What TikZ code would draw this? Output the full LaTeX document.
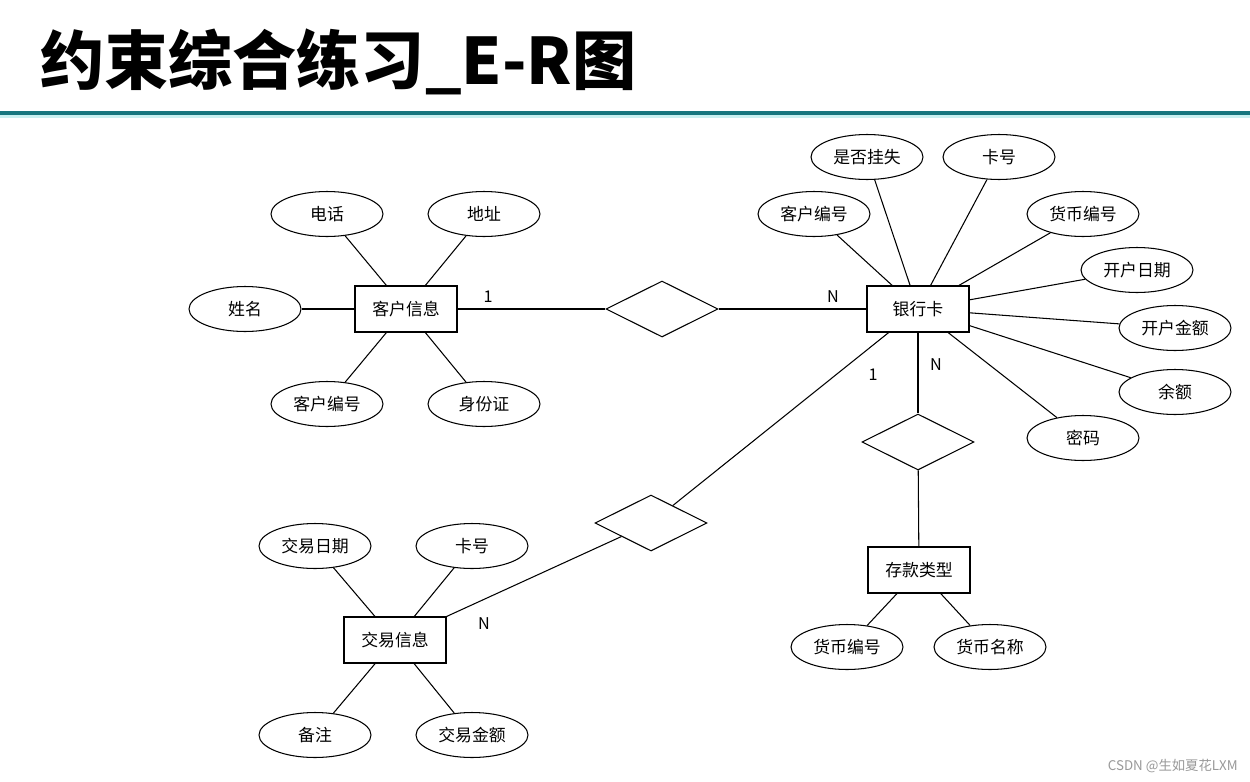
\documentclass[tikz,border=0pt]{standalone}
\usepackage{fontspec}
\setmainfont{Noto Sans CJK SC}
\usetikzlibrary{shapes.geometric}
\definecolor{bar}{RGB}{22,118,126}
\definecolor{barlight}{RGB}{200,240,240}
\begin{document}
\begin{tikzpicture}[x=0.02cm,y=-0.02cm,
  txt/.style={font=\fontsize{9.6}{11}\selectfont},
  ent/.style={txt,draw,line width=0.6pt,rectangle,minimum width=2.04cm,minimum height=0.92cm,inner sep=0pt,fill=white},
  attr/.style={txt,draw,line width=0.6pt,ellipse,minimum width=2.24cm,minimum height=0.9cm,inner sep=0pt,fill=white},
  rel/.style={draw,line width=0.6pt,diamond,aspect=2,minimum width=2.24cm,minimum height=1.12cm,inner sep=0pt,fill=white},
  card/.style={font=\fontsize{9.2}{11}\selectfont},
  conn/.style={line width=0.6pt}]
\useasboundingbox (0,0) rectangle (1250,781);
\fill[white] (0,0) rectangle (1250,781);
% title
\node[anchor=west,inner sep=0pt,font=\fontsize{36.5}{40}\selectfont\bfseries] (title) at (40,62) {约束综合练习\_E-R图};
\fill[barlight] (0,114) rectangle (1250,118);
\fill[bar] (0,110.5) rectangle (1250,114.5);
% entities
\node[ent] (kh) at (406,309) {客户信息};
\node[ent] (yhk) at (918,309) {银行卡};
\node[ent] (jy) at (395,640) {交易信息};
\node[ent] (ck) at (919,570) {存款类型};
% relationships
\node[rel] (r1) at (662,309) {};
\node[rel] (r2) at (918,442) {};
\node[rel] (r3) at (651,523) {};
% attributes of 客户信息
\node[attr] (a1) at (327,214) {电话};
\node[attr] (a2) at (484,214) {地址};
\node[attr] (a3) at (245,309) {姓名};
\node[attr] (a4) at (327,404) {客户编号};
\node[attr] (a5) at (484,404) {身份证};
% attributes of 银行卡
\node[attr] (b1) at (867,157) {是否挂失};
\node[attr] (b2) at (999,157) {卡号};
\node[attr] (b3) at (814,214) {客户编号};
\node[attr] (b4) at (1083,214) {货币编号};
\node[attr] (b5) at (1137,270) {开户日期};
\node[attr] (b6) at (1175,328) {开户金额};
\node[attr] (b7) at (1175,392) {余额};
\node[attr] (b8) at (1083,438) {密码};
% attributes of 交易信息
\node[attr] (c1) at (315,546) {交易日期};
\node[attr] (c2) at (472,546) {卡号};
\node[attr] (c3) at (315,735) {备注};
\node[attr] (c4) at (472,735) {交易金额};
% attributes of 存款类型
\node[attr] (d1) at (847,647) {货币编号};
\node[attr] (d2) at (990,647) {货币名称};
% connectors
\foreach \a in {a1,a2,a3,a4,a5} \draw[conn] (kh) -- (\a);
\foreach \a in {b1,b2,b3,b4,b5,b6,b7,b8} \draw[conn] (yhk) -- (\a);
\foreach \a in {c1,c2,c3,c4} \draw[conn] (jy) -- (\a);
\foreach \a in {d1,d2} \draw[conn] (ck) -- (\a);
\draw[conn] (kh) -- (r1);
\draw[conn] (r1) -- (yhk);
\draw[conn] (yhk) -- (r2);
\draw[conn] (r2) -- (ck);
\draw[conn] (yhk) -- (r3);
\draw[conn] (r3) -- (jy);
% cardinalities
\node[card] (n1) at (488,297) {1};
\node[card] (n2) at (833,297) {N};
\node[card] (n3) at (936,365) {N};
\node[card] (n4) at (873,375) {1};
\node[card] (n5) at (484,624) {N};
% watermark
\node[text=black!40,font=\fontsize{7.6}{9}\selectfont,anchor=east,inner sep=0pt] (wm) at (1238,766) {CSDN @生如夏花LXM};
\end{tikzpicture}
\end{document}
